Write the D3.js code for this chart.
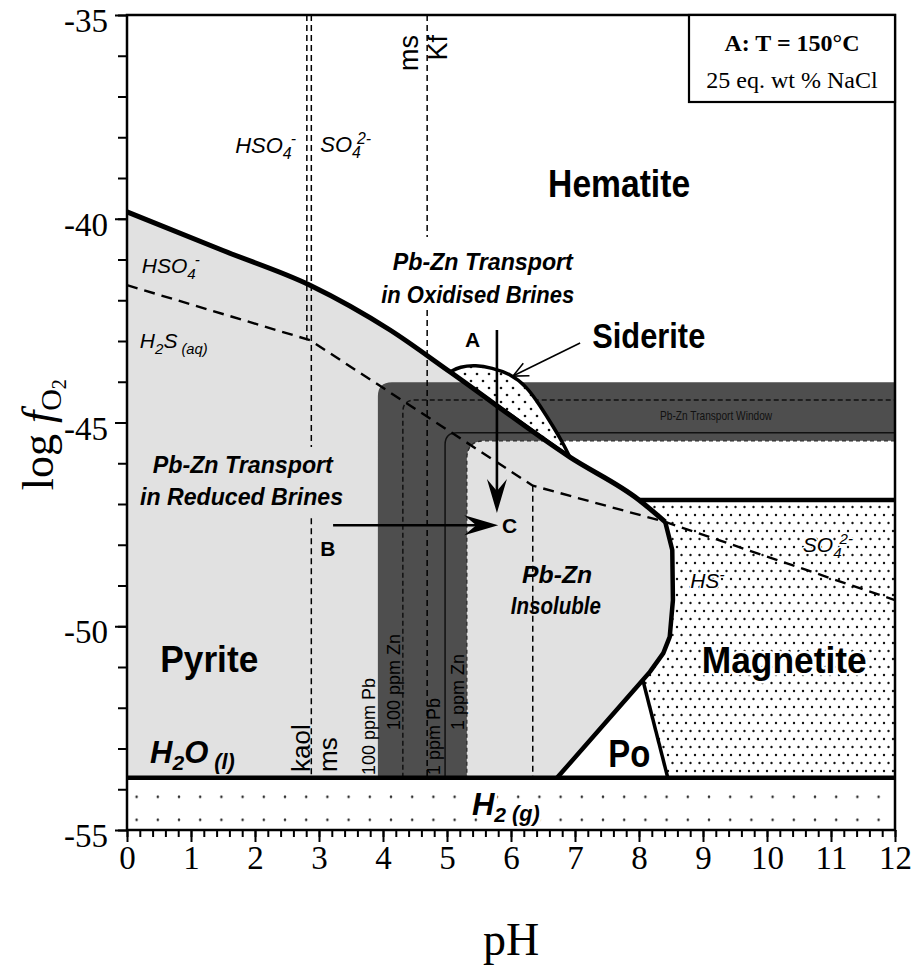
<!DOCTYPE html>
<html><head><meta charset="utf-8">
<script src="https://cdn.jsdelivr.net/npm/d3@7"></script>
<style>
body{margin:0;background:#fff}
svg{display:block}
</style></head><body>
<svg id="chart" width="912" height="965"></svg>
<script>
// ---------- DATA (pH, log fO2) ----------
const xMajorTicks = d3.range(0, 13, 1);
const xMinorTicks = d3.range(0, 60.5, 1).map(d => d / 5);
const yMajorTicks = [-55, -50, -45, -40, -35];
const yMinorTicks = d3.range(-55, -34, 1);

const waterLimit = -53.72;                       // H2O(l) / H2(g)
const hemPyrLine = [[0,-39.83],[1.5,-40.78],[2.86,-41.63],[4.11,-42.73],[5.05,-43.76],[6.92,-45.85],[8.0,-46.9],[8.41,-47.44]];
const sulfurLine = [[0,-41.63],[2.86,-42.98],[6.34,-46.55],[8.41,-47.44],[12,-49.36]];
const pyrMagLine = [[8.41,-47.44],[8.52,-48.13],[8.53,-49.36],[8.48,-50.26],[8.38,-50.66],[8.17,-51.12],[8.06,-51.32],[6.72,-53.72]];
const poMagLine  = [[8.06,-51.32],[8.45,-53.72]];
const magTopLine = [[8.0,-46.9],[12,-46.9]];
const sideriteDome = [[5.05,-43.76],[5.2,-43.63],[5.45,-43.59],[5.7,-43.66],[5.98,-43.8],[6.25,-44.12],[6.45,-44.58],[6.66,-45.1],[6.81,-45.5],[6.92,-45.85]];

const bandLeftPH = 3.92, bandInnerPH = 5.31, bandTopFO2 = -44.01, bandBottomFO2 = -45.45;
const zn100Line = [4.31, -44.45];   // 100 ppm Zn (dashed)
const pb1Line   = [4.97, -45.25];   // 1 ppm Pb (solid)

const vDashed = [
  [2.81, -35, -42.98],               // HSO4- / SO4 2-
  [2.88, -35, -45.6], [2.88, -47.35, -53.72],   // kaol / ms
  [4.69, -35, -40.45], [4.69, -42.24, -53.72],  // ms / Kf
  [6.34, -46.55, -53.72]
];
const arrowA = [[5.78,-42.73],[5.78,-47.22]];
const arrowB = [[3.22,-47.52],[5.80,-47.52]];
const arrowSid = [[7.08,-43.05],[6.03,-43.86]];

// ---------- SCALES ----------
const x = d3.scaleLinear().domain([0, 12]).range([127, 895]);
const y = d3.scaleLinear().domain([-55, -35]).range([830, 15]);
const line = d3.line().x(d => x(d[0])).y(d => y(d[1]));
const smooth = d3.line().x(d => x(d[0])).y(d => y(d[1])).curve(d3.curveMonotoneX);
const SANS = '"Liberation Sans", Arial, Helvetica, sans-serif';
const SERIF = '"Liberation Serif", "Times New Roman", serif';

const svg = d3.select("#chart");
const defs = svg.append("defs");
function dotPattern(id, w, h, dots, r, ox, oy){
  const p = defs.append("pattern").attr("id", id).attr("patternUnits","userSpaceOnUse")
    .attr("width", w).attr("height", h).attr("x", ox || 0).attr("y", oy || 0);
  p.append("rect").attr("width", w).attr("height", h).attr("fill", "#fff");
  dots.forEach(d => p.append("circle").attr("cx", d[0]).attr("cy", d[1]).attr("r", r).attr("fill", "#111"));
}
dotPattern("magDots", 9, 16, [[2,3],[6.5,11]], 1.2);
dotPattern("sidDots", 12, 14, [[3,3],[9,10]], 1.3);
dotPattern("h2Dots", 21.2, 23, [[10.6,11.5]], 1.2, x(0) - 1, y(waterLimit) + 7.5);

const plot = svg.append("g");

// Pyrite field (light grey)
const pyriteOutline = smooth(hemPyrLine) + line(pyrMagLine.slice(1)).replace("M", "L") + "L" + x(0) + "," + y(waterLimit) + "Z";
plot.append("path").attr("d", pyriteOutline).attr("fill", "#e1e1e1");
// Magnetite field (dots)
plot.append("path").attr("d", line([...magTopLine, [12, waterLimit], [poMagLine[1][0], waterLimit], ...pyrMagLine.slice(0, 7).reverse()]) + "Z")
  .attr("fill", "url(#magDots)");
// H2 gas field
plot.append("rect").attr("x", x(0)).attr("y", y(waterLimit)).attr("width", x(12) - x(0)).attr("height", y(-55) - y(waterLimit))
  .attr("fill", "url(#h2Dots)");

// Pb-Zn transport band
(function(){
  const L = x(bandLeftPH), I = x(bandInnerPH), T = y(bandTopFO2), B = y(bandBottomFO2), W = y(waterLimit), R = x(12);
  const ro = 14, ri = 18;
  plot.append("path")
    .attr("d", `M${L},${W} L${L},${T+ro} Q${L},${T} ${L+ro},${T} L${R},${T} L${R},${B} L${I+ri},${B} Q${I},${B} ${I},${B+ri} L${I},${W} Z`)
    .attr("fill", "#4e4e4e");
  plot.append("path")
    .attr("d", `M${R},${B} L${I+ri},${B} Q${I},${B} ${I},${B+ri} L${I},${W}`)
    .attr("fill", "none").attr("stroke", "#2a2a2a").attr("stroke-width", 1.3).attr("stroke-dasharray", "4,3");
  function elbow(pt, r){
    const X = x(pt[0]), Y = y(pt[1]);
    return `M${X},${W} L${X},${Y+r} Q${X},${Y} ${X+r},${Y} L${R},${Y}`;
  }
  plot.append("path").attr("d", elbow(zn100Line, 12)).attr("fill","none").attr("stroke","#111")
    .attr("stroke-width", 1.5).attr("stroke-dasharray","5,3");
  plot.append("path").attr("d", elbow(pb1Line, 12)).attr("fill","none").attr("stroke","#111")
    .attr("stroke-width", 1.5);
})();

// Siderite dome
plot.append("path").attr("d", d3.line().x(d => x(d[0])).y(d => y(d[1])).curve(d3.curveBasis)(sideriteDome) + "Z")
  .attr("fill", "url(#sidDots)").attr("stroke", "#000").attr("stroke-width", 3.5);

// dashed lines
plot.append("path").attr("d", line(sulfurLine)).attr("fill","none").attr("stroke","#000")
  .attr("stroke-width", 2.4).attr("stroke-dasharray","11,7");
vDashed.forEach(v => {
  plot.append("line").attr("x1", x(v[0])).attr("x2", x(v[0])).attr("y1", y(v[1])).attr("y2", y(v[2]))
    .attr("stroke","#000").attr("stroke-width", 1.5).attr("stroke-dasharray","6,4");
});

// thick boundaries
plot.append("path").attr("d", smooth(hemPyrLine)).attr("fill","none").attr("stroke","#000").attr("stroke-width", 5);
[[pyrMagLine, 4.5], [poMagLine, 3.5], [magTopLine, 4.5], [[[0, waterLimit],[12, waterLimit]], 4.5]]
  .forEach(([pts, w]) => plot.append("path").attr("d", line(pts)).attr("fill","none")
    .attr("stroke","#000").attr("stroke-width", w).attr("stroke-linejoin","round"));

// arrows
function bigArrow(pts){
  const x1 = x(pts[0][0]), y1 = y(pts[0][1]), x2 = x(pts[1][0]), y2 = y(pts[1][1]);
  const a = Math.atan2(y2 - y1, x2 - x1), L = 34, Wd = 10, N = 22;
  const rot = (dx, dy) => [x2 + dx * Math.cos(a) - dy * Math.sin(a), y2 + dx * Math.sin(a) + dy * Math.cos(a)];
  plot.append("line").attr("x1", x1).attr("y1", y1).attr("x2", rot(-N,0)[0]).attr("y2", rot(-N,0)[1])
    .attr("stroke","#000").attr("stroke-width", 2.6);
  plot.append("path").attr("d", "M" + [rot(0,0), rot(-L,-Wd), rot(-N,0), rot(-L,Wd)].map(p => p.join(",")).join("L") + "Z")
    .attr("fill","#000");
}
bigArrow(arrowA);
bigArrow(arrowB);
(function(){
  const x1 = x(arrowSid[0][0]), y1 = y(arrowSid[0][1]), x2 = x(arrowSid[1][0]), y2 = y(arrowSid[1][1]);
  const a = Math.atan2(y2 - y1, x2 - x1);
  const rot = (dx, dy) => [x2 + dx * Math.cos(a) - dy * Math.sin(a), y2 + dx * Math.sin(a) + dy * Math.cos(a)];
  plot.append("line").attr("x1", x1).attr("y1", y1).attr("x2", x2).attr("y2", y2).attr("stroke","#000").attr("stroke-width", 1.6);
  plot.append("path").attr("d", "M" + [rot(-15,-7), rot(0,0), rot(-15,7)].map(p => p.join(",")).join("L"))
    .attr("fill","none").attr("stroke","#000").attr("stroke-width", 1.6);
})();

// ---------- TEXT ----------
const tg = svg.append("g");
function rich(ph, fo2, parts, o){
  const t = tg.append("text").attr("x", x(ph)).attr("y", y(fo2))
    .attr("font-family", o.serif ? SERIF : SANS).attr("font-size", o.fs)
    .attr("font-weight", o.bold ? "bold" : "normal").attr("font-style", o.italic ? "italic" : "normal")
    .attr("text-anchor", o.anchor || "start").attr("fill", o.fill || "#000");
  if (o.halo) t.attr("stroke", "#fff").attr("stroke-width", o.halo).attr("paint-order", "stroke").attr("stroke-linejoin","round");
  if (o.len) t.attr("textLength", o.len).attr("lengthAdjust", "spacingAndGlyphs");
  let shift = 0;
  parts.forEach(p => {
    if (typeof p === "string") p = {t: p};
    const target = p.sub ? p.sub * o.fs : (p.sup ? -p.sup * o.fs : 0);
    const ts = t.append("tspan").text(p.t).attr("dy", target - shift);
    if (p.fs) ts.attr("font-size", p.fs * o.fs);
    if (p.dx) ts.attr("dx", p.dx);
    shift = target;
  });
  return t;
}
function rot(px, py, txt, fs, anchor){
  tg.append("text").attr("transform", `translate(${px},${py}) rotate(-90)`)
    .attr("font-family", SANS).attr("font-size", fs).attr("text-anchor", anchor || "start").text(txt);
}

rich(6.58, -39.47, ["Hematite"], {fs: 38, bold: true, len: 142});
rich(7.27, -43.17, ["Siderite"], {fs: 35, bold: true, len: 113});
rich(0.52, -51.12, ["Pyrite"], {fs: 37, bold: true, len: 98});
rich(8.98, -51.15, ["Magnetite"], {fs: 36, bold: true, len: 165, halo: 5});
rich(7.52, -53.45, ["Po"], {fs: 38, bold: true, len: 42});
rich(0.36, -53.36, ["H", {t:"2", sub:0.22, fs:0.68}, "O", {t:" (l)", sub:0.18, fs:0.7}], {fs: 31, bold: true, italic: true});
rich(5.39, -54.63, ["H", {t:"2", sub:0.22, fs:0.68}, {t:" (g)", sub:0.18, fs:0.7}], {fs: 31, bold: true, italic: true, halo: 6});

rich(5.56, -41.26, ["Pb-Zn Transport"], {fs: 23, bold: true, italic: true, anchor: "middle", len: 180});
rich(5.48, -42.07, ["in Oxidised Brines"], {fs: 23, bold: true, italic: true, anchor: "middle", len: 193});
rich(1.81, -46.24, ["Pb-Zn Transport"], {fs: 23, bold: true, italic: true, anchor: "middle", len: 180});
rich(1.79, -47.02, ["in Reduced Brines"], {fs: 23, bold: true, italic: true, anchor: "middle", len: 203});
rich(6.72, -48.93, ["Pb-Zn"], {fs: 23, bold: true, italic: true, anchor: "middle", len: 70});
rich(6.70, -49.69, ["Insoluble"], {fs: 23, bold: true, italic: true, anchor: "middle", len: 90});

rich(5.28, -43.15, ["A"], {fs: 21, bold: true});
rich(3.02, -48.28, ["B"], {fs: 21, bold: true});
rich(5.86, -47.71, ["C"], {fs: 21, bold: true});

rich(1.69, -38.39, ["HSO", {t:"4", sub:0.28, fs:0.72}, {t:"-", sup:0.4, fs:0.72, dx:-1}], {fs: 22, italic: true});
rich(3.02, -38.36, ["SO", {t:"4", sub:0.28, fs:0.72}, {t:"2-", sup:0.38, fs:0.72, dx:-4}], {fs: 22, italic: true});
rich(0.23, -41.33, ["HSO", {t:"4", sub:0.28, fs:0.72}, {t:"-", sup:0.4, fs:0.72, dx:-1}], {fs: 21, italic: true});
rich(0.2, -43.17, ["H", {t:"2", sub:0.28, fs:0.72}, "S", {t:" (aq)", sub:0.3, fs:0.7}], {fs: 21, italic: true});
rich(10.56, -48.18, ["SO", {t:"4", sub:0.28, fs:0.72}, {t:"2-", sup:0.38, fs:0.72, dx:-2}], {fs: 21, italic: true, halo: 3});
rich(8.8, -49.06, ["HS", {t:"-", sup:0.4, fs:0.72}], {fs: 21, italic: true, halo: 3});
rich(8.33, -44.94, ["Pb-Zn Transport Window"], {fs: 13, fill: "#111", len: 112});

rot(310, 772, "kaol", 26);
rot(337, 772, "ms", 26);
rot(418, 35, "ms", 27, "end");
rot(447, 35, "Kf", 27, "end");
rot(375, 775, "100 ppm Pb", 18);
rot(400, 730, "100 ppm Zn", 18);
rot(440, 775, "1 ppm Pb", 18);
rot(464, 730, "1 ppm Zn", 18);

// ---------- AXES ----------
const ax = svg.append("g");
const gxMinor = ax.append("g").attr("transform", `translate(0,${y(-55)})`)
  .call(d3.axisBottom(x).tickValues(xMinorTicks).tickSize(7).tickFormat(""));
const gxMajor = ax.append("g").attr("transform", `translate(0,${y(-55)})`)
  .call(d3.axisBottom(x).tickValues(xMajorTicks).tickSize(12).tickPadding(4).tickFormat(d => String(d)));
const gyMinor = ax.append("g").attr("transform", `translate(${x(0)},0)`)
  .call(d3.axisLeft(y).tickValues(yMinorTicks).tickSize(9).tickFormat(""));
const gyMajor = ax.append("g").attr("transform", `translate(${x(0)},0)`)
  .call(d3.axisLeft(y).tickValues(yMajorTicks).tickSize(12).tickPadding(7).tickFormat(d => String(d)));
[gxMinor, gxMajor, gyMinor, gyMajor].forEach(g => {
  g.select(".domain").remove();
  g.selectAll(".tick line").attr("stroke", "#000").attr("stroke-width", 2);
  g.selectAll(".tick text").attr("font-family", SERIF).attr("font-size", 33).attr("fill", "#000");
});
gyMajor.selectAll(".tick text").attr("dy", "0.5em");
ax.append("rect").attr("x", x(0)).attr("y", y(-35)).attr("width", x(12) - x(0)).attr("height", y(-55) - y(-35))
  .attr("fill", "none").attr("stroke", "#000").attr("stroke-width", 2.5);

// axis titles
const yt = ax.append("text").attr("transform", `translate(53,${y(-45.3)}) rotate(-90)`)
  .attr("font-family", SERIF).attr("font-size", 44).attr("text-anchor", "middle");
yt.append("tspan").text("log ");
yt.append("tspan").text("f").attr("font-style", "italic");
yt.append("tspan").text("O").attr("font-size", 30).attr("dy", 8);
yt.append("tspan").text("2").attr("font-size", 20).attr("dy", 5);
ax.append("text").attr("x", x(6)).attr("y", 955).attr("font-family", SERIF).attr("font-size", 46)
  .attr("text-anchor", "middle").text("pH");

// legend box
const lg = svg.append("g");
lg.append("rect").attr("x", 689).attr("y", y(-35)).attr("width", x(12) - 689).attr("height", 87)
  .attr("fill", "#fff").attr("stroke", "#000").attr("stroke-width", 2.2);
lg.append("text").attr("x", 792).attr("y", 51).attr("font-family", SERIF).attr("font-weight", "bold")
  .attr("font-size", 24).attr("text-anchor", "middle").text("A: T = 150°C");
lg.append("text").attr("x", 792).attr("y", 88).attr("font-family", SERIF)
  .attr("font-size", 24).attr("text-anchor", "middle").text("25 eq. wt % NaCl");
</script>
</body></html>
